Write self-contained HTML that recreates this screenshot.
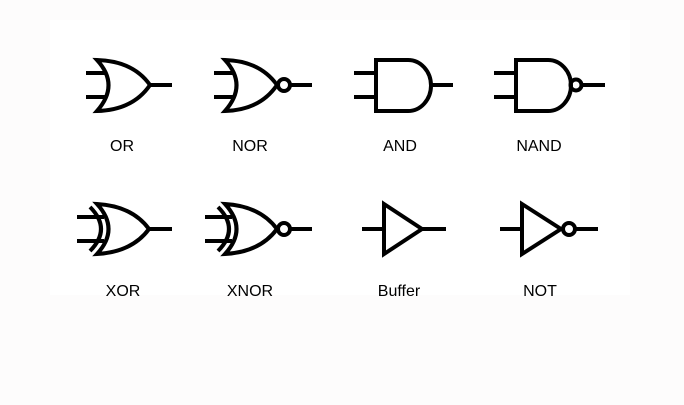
<!DOCTYPE html>
<html><head><style>
html,body{margin:0;padding:0;background:#fdfcfc;}
svg{display:block}
text{font-family:"Liberation Sans",sans-serif;font-size:16px;fill:#000;text-anchor:middle}
</style></head><body>
<svg width="684" height="405" viewBox="0 0 684 405">
<rect width="684" height="405" fill="#fdfcfc"/>
<rect x="50" y="20" width="580" height="275" fill="#ffffff"/>
<g fill="none" stroke="#000" stroke-width="4" stroke-linejoin="miter">
<path d="M86,73H105M86,97H105"/>
<path d="M97,60 Q120,85 97,111 Q133,110 150,85 Q133,61 97,60 Z"/>
<path d="M150,85H172"/>
<path d="M214,73H233M214,97H233"/>
<path d="M225,60 Q248,85 225,111 Q260,110 277,85 Q260,61 225,60 Z"/>
<circle cx="284" cy="85" r="6"/>
<path d="M290,85H312"/>
<path d="M354,73H376M354,97H376"/>
<path d="M376,60H408 A23,25.5 0 0 1 408,111 H376 Z"/>
<path d="M431,85H453"/>
<path d="M494,73H516M494,97H516"/>
<path d="M516,60H548 A23,25.5 0 0 1 548,111 H516 Z"/>
<circle cx="576" cy="85" r="5.5"/>
<path d="M582,85H605"/>
<path d="M77,217H104M77,241H104"/>
<path d="M90,207 Q112,229 90,251"/>
<path d="M97,204 Q120,229 97,254 Q132,252 149,229 Q132,206 97,204 Z"/>
<path d="M149,229H172"/>
<path d="M205,217H232M205,241H232"/>
<path d="M218,207 Q240,229 218,251"/>
<path d="M225,204 Q248,229 225,254 Q260,252 277,229 Q260,206 225,204 Z"/>
<circle cx="284" cy="229" r="6"/>
<path d="M290,229H312"/>
<path d="M362,229H384"/>
<path d="M384,204 L422,229 L384,254 Z"/>
<path d="M422,229H446"/>
<path d="M500,229H522"/>
<path d="M522,204 L561,229 L522,254 Z"/>
<circle cx="569" cy="229" r="6"/>
<path d="M575,229H598"/>
</g>
<text x="122" y="151">OR</text>
<text x="250" y="151">NOR</text>
<text x="400" y="151">AND</text>
<text x="539" y="151">NAND</text>
<text x="123" y="296">XOR</text>
<text x="250" y="296">XNOR</text>
<text x="399" y="296">Buffer</text>
<text x="540" y="296">NOT</text>
</svg>
</body></html>
